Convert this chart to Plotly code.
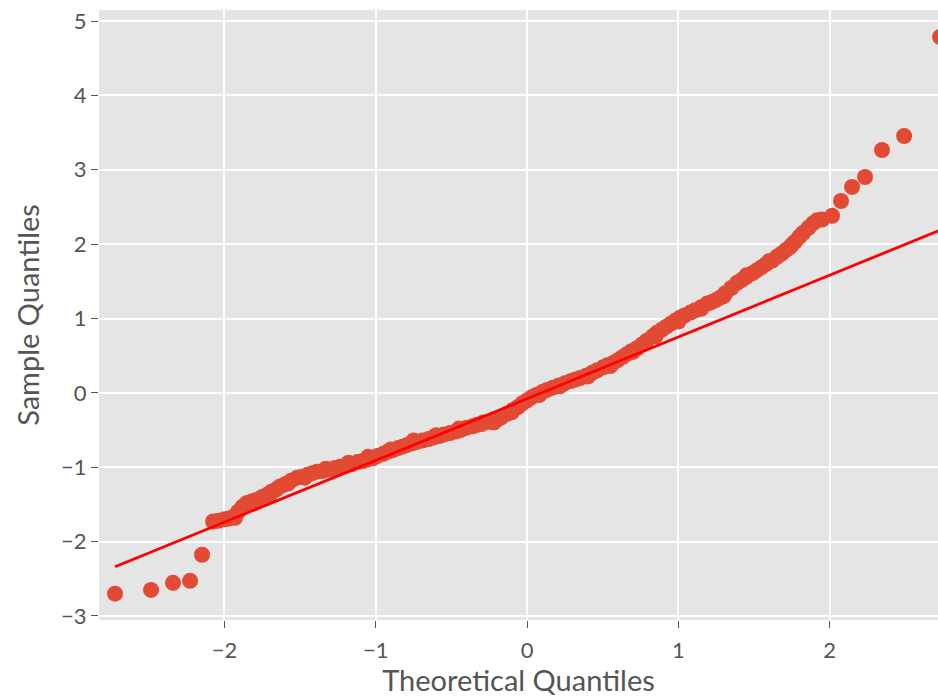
import plotly.graph_objects as go

# Theoretical quantiles (x) and sample quantiles (y)
theoretical = [
    -2.723, -2.485, -2.340, -2.227, -2.148,
    -2.075, -2.04, -2.00, -1.97, -1.943, -1.91, -1.88, -1.851,
    -1.82, -1.79, -1.75, -1.718, -1.69, -1.66, -1.633,
    -1.60, -1.56, -1.52, -1.49, -1.45, -1.42, -1.388,
    -1.35, -1.31, -1.27, -1.236, -1.20, -1.16, -1.12, -1.09, -1.057,
    -1.02, -0.99, -0.95, -0.92, -0.886, -0.85, -0.82, -0.79, -0.76, -0.727,
    -0.69, -0.65, -0.62, -0.58, -0.55, -0.509, -0.47, -0.44, -0.40, -0.36, -0.33, -0.291,
    -0.26, -0.23, -0.198, -0.17, -0.13, -0.093,
    -0.06, -0.03, 0.00, 0.03, 0.06, 0.10, 0.132,
    0.17, 0.21, 0.25, 0.29, 0.32, 0.35, 0.39, 0.43, 0.46, 0.50, 0.53, 0.568,
    0.60, 0.63, 0.66, 0.69, 0.727, 0.76, 0.79, 0.83, 0.859,
    0.89, 0.92, 0.95, 0.98, 1.011, 1.04, 1.08, 1.11, 1.15, 1.19,
    1.22, 1.25, 1.276, 1.31, 1.35, 1.388, 1.42, 1.45, 1.49, 1.52,
    1.55, 1.58, 1.62, 1.652, 1.68, 1.71, 1.738, 1.77, 1.80, 1.824,
    1.86, 1.89, 1.917, 1.95, 2.016, 2.075, 2.148, 2.234, 2.346, 2.492, 2.73,
    # points lying a little off the centre of the band
    -1.93, -1.80, -1.70, -1.58, -1.47, -1.33, -1.18, -1.05, -0.90, -0.75,
    -0.60, -0.45, -0.30, -0.22, -0.10, 0.08, 0.22, 0.40, 0.55, 0.70,
    0.85, 1.00, 1.15, 1.30, 1.45, 1.60, 1.75,
]
sample = [
    -2.70, -2.65, -2.554, -2.527, -2.177,
    -1.73, -1.72, -1.70, -1.69, -1.67, -1.60, -1.53, -1.48,
    -1.46, -1.44, -1.40, -1.37, -1.33, -1.30, -1.26,
    -1.23, -1.18, -1.14, -1.13, -1.10, -1.08, -1.06,
    -1.05, -1.03, -1.01, -0.995, -0.98, -0.96, -0.93, -0.92, -0.90,
    -0.88, -0.85, -0.82, -0.79, -0.77, -0.74, -0.72, -0.70, -0.68, -0.66,
    -0.64, -0.62, -0.60, -0.58, -0.56, -0.54, -0.52, -0.50, -0.47, -0.45, -0.43, -0.40,
    -0.39, -0.38, -0.36, -0.33, -0.28, -0.23,
    -0.19, -0.14, -0.10, -0.06, -0.03, 0.01, 0.04,
    0.07, 0.10, 0.13, 0.16, 0.18, 0.20, 0.23, 0.27, 0.30, 0.34, 0.37, 0.40,
    0.44, 0.48, 0.52, 0.56, 0.60, 0.65, 0.70, 0.76, 0.81,
    0.85, 0.89, 0.93, 0.97, 1.01, 1.04, 1.08, 1.11, 1.15, 1.20,
    1.22, 1.25, 1.28, 1.34, 1.41, 1.48, 1.52, 1.56, 1.61, 1.65,
    1.69, 1.73, 1.78, 1.83, 1.87, 1.92, 1.96, 2.03, 2.10, 2.15,
    2.22, 2.28, 2.32, 2.33, 2.38, 2.58, 2.769, 2.903, 3.266, 3.454, 4.785,
    -1.68, -1.48, -1.37, -1.22, -1.14, -1.02, -0.94, -0.86, -0.76, -0.64,
    -0.57, -0.48, -0.42, -0.40, -0.26, -0.03, 0.09, 0.22, 0.36, 0.55,
    0.76, 0.96, 1.13, 1.30, 1.58, 1.77, 1.99,
]

# Reference line ends
line_x = [-2.723, 2.73]
line_y = [-2.339, 2.188]

x_ticks = [-2, -1, 0, 1, 2]
y_ticks = [-3, -2, -1, 0, 1, 2, 3, 4, 5]

fig = go.Figure()
fig.add_trace(go.Scatter(
    x=theoretical, y=sample, mode="markers",
    marker=dict(color="#E24A33", size=16, line=dict(width=0)),
    showlegend=False,
))
fig.add_trace(go.Scatter(
    x=line_x, y=line_y, mode="lines",
    line=dict(color="#FF0000", width=2.8),
    showlegend=False,
))

axis_common = dict(
    showgrid=True, gridcolor="white", gridwidth=1.5,
    zeroline=False, showline=False,
    ticks="outside", ticklen=7, tickwidth=1.2, tickcolor="#555555",
    tickfont=dict(family="Lato", size=22, color="#555555"),
)

title_font = dict(family="Lato", size=29, color="#555555")

fig.update_layout(
    width=938, height=697,
    margin=dict(l=99, r=0, t=10, b=77),
    paper_bgcolor="white", plot_bgcolor="#E5E5E5",
    xaxis=dict(range=[-2.829, 2.716], tickvals=x_ticks, ticklabelstandoff=4,
               title=dict(text="Theoretical Quantiles", standoff=10, font=title_font),
               **axis_common),
    yaxis=dict(range=[-3.054, 5.148], tickvals=y_ticks,
               title=dict(text="Sample Quantiles", standoff=12, font=title_font),
               **axis_common),
)

fig.write_html("out.html")
